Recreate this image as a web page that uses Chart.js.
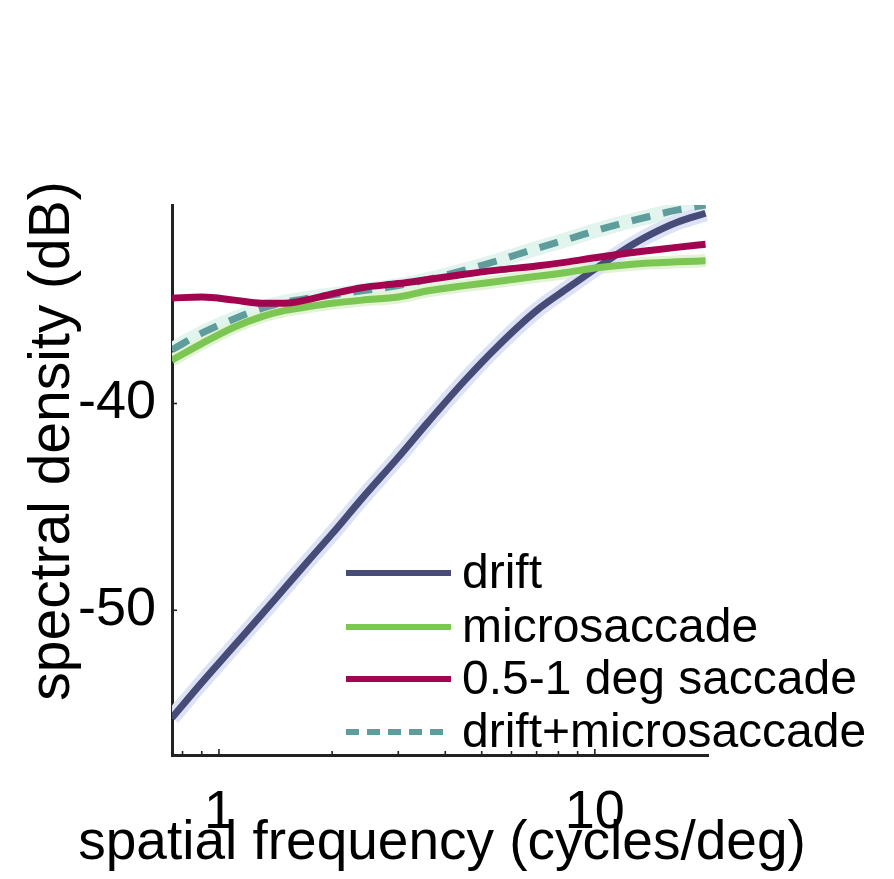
<!DOCTYPE html>
<html>
<head>
<meta charset="utf-8">
<script src="https://cdn.jsdelivr.net/npm/chart.js@4.4.0/dist/chart.umd.min.js"></script>
<style>
  body { margin: 0; background: #fff; }
  canvas { display: block; }
</style>
</head>
<body>
<canvas id="graphCanvas" width="894" height="879"></canvas>
<script>
// spatial frequency (cycles/deg)
var freq = [0.75, 0.9, 1.1, 1.3, 1.5, 1.75, 2, 2.4, 3, 3.6, 4.5, 5.5, 7, 8.5, 10, 12, 14, 16.5, 19.7];
// spectral density (dB)
var drift = [-55.2, -53.5, -51.7, -50.2, -48.9, -47.5, -46.3, -44.6, -42.6, -40.9, -38.9, -37.25, -35.5, -34.4, -33.5, -32.55, -31.85, -31.25, -30.8];
var microsaccade = [-37.9, -37.1, -36.3, -35.8, -35.5, -35.3, -35.15, -35.0, -34.85, -34.55, -34.3, -34.1, -33.85, -33.65, -33.45, -33.3, -33.2, -33.15, -33.1];
var saccade = [-34.9, -34.85, -35.0, -35.15, -35.15, -34.95, -34.7, -34.4, -34.2, -34.0, -33.75, -33.55, -33.35, -33.15, -32.95, -32.75, -32.6, -32.45, -32.3];
var driftMicro = [-37.4, -36.6, -35.9, -35.4, -35.1, -34.9, -34.75, -34.55, -34.3, -34.0, -33.55, -33.1, -32.5, -32.05, -31.65, -31.25, -30.95, -30.65, -30.4];

var xTicks = [0.8, 0.9, 1, 2, 3, 4, 5, 6, 7, 8, 9, 10];
var xLabels = [1, 10];
var yTicks = [-50, -40];

var FONT = '"Liberation Sans", Arial, Helvetica, sans-serif';

function pts(ys) {
    return freq.map(function(f, i) { return {x: f, y: ys[i]}; });
}

var legendItems = [
    {label: 'drift', color: '#464c77', dash: []},
    {label: 'microsaccade', color: '#7cc653', dash: []},
    {label: '0.5-1 deg saccade', color: '#a3044f', dash: []},
    {label: 'drift+microsaccade', color: '#5f9c9c', dash: [13, 8]}
];

var line = function(label, data, color, width, order, dash) {
    return {
        label: label,
        data: pts(data),
        borderColor: color,
        borderWidth: width,
        borderDash: dash || [],
        pointRadius: 0,
        fill: false,
        cubicInterpolationMode: 'monotone',
        order: order
    };
};

// inward tick marks, axis titles and the legend inside the plot
var decorations = {
    id: 'decorations',
    afterDraw: function(chart) {
        var ctx = chart.ctx;
        var xs = chart.scales.x, ys = chart.scales.y;
        ctx.save();
        ctx.strokeStyle = '#222';
        ctx.lineWidth = 1.6;
        xs.ticks.forEach(function(t) {
            var px = xs.getPixelForValue(t.value);
            var len = (t.value === 1 || t.value === 10) ? 6 : 4;
            ctx.beginPath();
            ctx.moveTo(px, xs.top);
            ctx.lineTo(px, xs.top - len);
            ctx.stroke();
        });
        ys.ticks.forEach(function(t) {
            var py = ys.getPixelForValue(t.value);
            ctx.beginPath();
            ctx.moveTo(ys.right, py);
            ctx.lineTo(ys.right + 5, py);
            ctx.stroke();
        });

        ctx.fillStyle = '#000';
        ctx.textAlign = 'center';
        ctx.textBaseline = 'alphabetic';
        // x axis title
        ctx.font = '55px ' + FONT;
        ctx.fillText('spatial frequency (cycles/deg)', (xs.left + xs.right) / 2 + 2, 859);
        // y axis title
        ctx.font = '57px ' + FONT;
        ctx.translate(69, 441);
        ctx.rotate(-Math.PI / 2);
        ctx.fillText('spectral density (dB)', 0, 0);
        ctx.restore();

        // legend
        ctx.save();
        ctx.font = '48px ' + FONT;
        ctx.textBaseline = 'middle';
        ctx.textAlign = 'left';
        var rows = [573, 627, 679, 732];
        legendItems.forEach(function(item, i) {
            ctx.strokeStyle = item.color;
            ctx.lineWidth = 6;
            ctx.setLineDash(item.dash);
            ctx.beginPath();
            ctx.moveTo(346, rows[i]);
            ctx.lineTo(451, rows[i]);
            ctx.stroke();
            ctx.fillStyle = '#000';
            ctx.fillText(item.label, 462, rows[i] + 2);
        });
        ctx.restore();
    }
};

var chart = new Chart(document.getElementById('graphCanvas'), {
    type: 'line',
    data: {
        datasets: [
            line('0.5-1 deg saccade', saccade, '#a3044f', 7, 0),
            line('microsaccade', microsaccade, '#7cc653', 7, 1),
            line('drift+microsaccade', driftMicro, '#5f9c9c', 7, 2, [19, 13]),
            line('drift', drift, '#464c77', 7, 3),
            // light error bands behind the curves
            line('drift band', drift, '#dde2f6', 16, 10),
            line('micro band', microsaccade, '#e3f3d6', 13, 11),
            line('sum band', driftMicro, '#e1f4ee', 15, 12)
        ]
    },
    options: {
        responsive: false,
        animation: false,
        layout: {padding: {top: 205, right: 186, left: 0, bottom: 0}},
        plugins: {
            legend: {display: false},
            tooltip: {enabled: false}
        },
        scales: {
            x: {
                type: 'logarithmic',
                min: 0.75,
                max: 20,
                grid: {display: false, drawTicks: false},
                border: {display: true, color: '#222', width: 3},
                afterBuildTicks: function(scale) {
                    scale.ticks = xTicks.map(function(v) { return {value: v}; });
                },
                afterFit: function(scale) { scale.height = 124; },
                ticks: {
                    autoSkip: false,
                    maxRotation: 0,
                    color: '#000',
                    padding: 26,
                    font: {family: FONT, size: 54},
                    callback: function(value) {
                        return xLabels.indexOf(value) >= 0 ? String(value) : '';
                    }
                }
            },
            y: {
                min: -57,
                max: -30.4,
                grid: {display: false, drawTicks: false},
                border: {display: true, color: '#222', width: 3},
                afterBuildTicks: function(scale) {
                    scale.ticks = yTicks.map(function(v) { return {value: v}; });
                },
                afterFit: function(scale) { scale.width = 172; },
                ticks: {
                    color: '#000',
                    padding: 16,
                    font: {family: FONT, size: 54},
                    callback: function(value) { return String(value); }
                }
            }
        }
    },
    plugins: [decorations]
});
</script>
</body>
</html>
